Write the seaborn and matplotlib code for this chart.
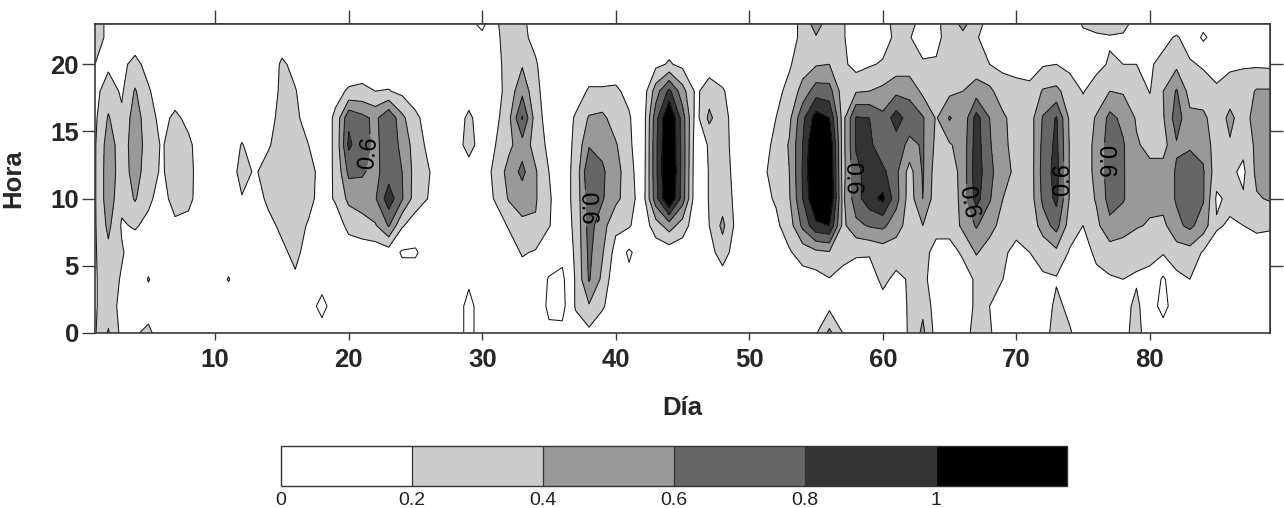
import numpy as np
import pandas as pd
import matplotlib
matplotlib.use("Agg")
import matplotlib.pyplot as plt
import matplotlib.cm as cm
from matplotlib.colors import ListedColormap, BoundaryNorm
import seaborn as sns

sns.set_theme(style="ticks")
plt.rcParams["font.family"] = ["Liberation Sans", "DejaVu Sans"]

# Eje de días y horas de la malla
dias = list(range(1, 90))
horas = [0, 2, 4, 6, 8, 10, 12, 14, 16, 18, 20, 22, 23]

# Índice (en centésimas) para cada día; cada lista recorre las horas de `horas`
indice_pct = [
    [18, 18, 18, 18, 18, 18, 18, 18, 16, 14, 20, 32, 32],   # 1
    [42, 30, 30, 35, 45, 52, 52, 50, 42, 30, 16, 14, 14],   # 2
    [14, 14, 18, 22, 18, 25, 30, 30, 24, 17, 16, 10, 10],   # 3
    [18, 8, 8, 10, 22, 42, 48, 50, 50, 42, 25, 10, 8],      # 4
    [24, 12, 21, 10, 15, 24, 30, 32, 28, 22, 14, 8, 8],     # 5
    [10, 10, 10, 10, 10, 12, 17, 18, 14, 10, 8, 8, 8],      # 6
    [10, 10, 10, 10, 16, 28, 32, 30, 24, 10, 8, 8, 8],      # 7
    [10, 10, 10, 10, 14, 25, 26, 24, 15, 8, 8, 8, 8],       # 8
    [10, 10, 10, 10, 10, 10, 10, 10, 10, 10, 8, 8, 8],      # 9
    [10, 10, 10, 10, 10, 10, 10, 10, 10, 10, 8, 8, 8],      # 10
    [10, 10, 21, 10, 10, 10, 10, 10, 10, 10, 8, 8, 8],      # 11
    [10, 10, 10, 10, 10, 19, 26, 21, 10, 10, 8, 8, 8],      # 12
    [10, 10, 10, 10, 10, 12, 18, 12, 10, 10, 8, 8, 8],      # 13
    [10, 10, 10, 10, 15, 24, 28, 18, 14, 10, 8, 8, 8],      # 14
    [10, 10, 12, 16, 24, 30, 32, 30, 26, 24, 23, 10, 8],    # 15
    [10, 10, 17, 25, 28, 32, 32, 28, 24, 21, 15, 8, 8],     # 16
    [8, 8, 10, 12, 18, 26, 27, 20, 12, 10, 8, 8, 8],        # 17
    [8, -6, 8, 10, 10, 12, 13, 10, 10, 10, 8, 8, 8],        # 18
    [10, 10, 10, 8, 10, 22, 22, 23, 23, 15, 10, 8, 8],      # 19
    [10, 10, 10, 10, 25, 45, 65, 84, 76, 22, 10, 8, 8],     # 20
    [10, 10, 10, 10, 30, 52, 62, 68, 66, 24, 10, 8, 8],     # 21
    [10, 10, 10, 8, 38, 58, 55, 55, 55, 20, 8, 8, 8],       # 22
    [10, 10, 10, 10, 62, 92, 70, 72, 78, 21, 8, 8, 8],      # 23
    [10, 10, 8, -2, 22, 62, 60, 55, 45, 15, 8, 8, 8],       # 24
    [10, 10, 8, -2, 10, 30, 32, 30, 24, 10, 8, 8, 8],       # 25
    [10, 10, 10, 8, 10, 19, 21, 15, 12, 10, 8, 8, 8],       # 26
    [10, 10, 10, 10, 10, 10, 10, 10, 10, 10, 8, 8, 8],      # 27
    [8, 8, 10, 10, 10, 10, 10, 10, 10, 10, 8, 8, 8],        # 28
    [-5, -5, 3, 10, 10, 10, 10, 28, 24, 10, 8, 6, 6],       # 29
    [8, 8, 10, 10, 10, 10, 10, 10, 10, 10, 8, 5, -5],       # 30
    [10, 10, 10, 10, 10, 22, 25, 20, 14, 12, 15, 16, 17],   # 31
    [8, 10, 10, 10, 22, 42, 48, 35, 35, 28, 26, 28, 30],    # 32
    [10, 10, 10, 22, 35, 50, 65, 52, 82, 55, 38, 24, 25],   # 33
    [10, 10, 8, 18, 38, 42, 42, 32, 30, 25, 22, 15, 10],    # 34
    [3, -3, -1, 8, 21, 22, 20, 15, 10, 10, 8, 8, 8],        # 35
    [5, -6, -4, 5, 10, 10, 10, 10, 10, 10, 8, 8, 8],        # 36
    [10, 22, 22, 23, 24, 26, 26, 24, 22, 12, 10, 8, 8],     # 37
    [15, 38, 62, 65, 68, 70, 78, 58, 42, 22, 10, 8, 8],     # 38
    [10, 22, 35, 42, 48, 62, 63, 55, 45, 22, 10, 8, 8],     # 39
    [10, 10, 5, 12, 25, 45, 48, 42, 30, 23, 10, 8, 8],      # 40
    [10, 10, 5, -3, 22, 30, 28, 24, 22, 15, 8, 8, 8],       # 41
    [10, 10, 10, 10, 8, 8, 6, 5, 5, 6, 8, 8, 8],            # 42
    [10, 10, 10, 8, 30, 72, 75, 75, 72, 50, 15, 10, 10],    # 43
    [10, 10, 10, 8, 50, 125, 130, 128, 125, 85, 22, 10, 10],  # 44
    [10, 10, 10, 8, 30, 70, 72, 72, 70, 48, 15, 10, 10],    # 45
    [10, 10, 10, 10, 8, 6, 6, 8, 12, 16, 10, 8, 8],         # 46
    [10, 10, 10, 12, 20, 21, 21, 22, 45, 30, 10, 8, 8],     # 47
    [8, 8, 10, 30, 45, 30, 26, 25, 25, 22, 8, 8, 8],        # 48
    [8, 8, 8, 10, 15, 16, 16, 15, 14, 10, 8, 8, 8],         # 49
    [10, 10, 10, 10, 10, 10, 10, 10, 10, 10, 8, 8, 8],      # 50
    [10, 10, 10, 10, 10, 15, 18, 14, 10, 10, 8, 8, 8],      # 51
    [10, 10, 10, 10, 16, 22, 24, 24, 20, 15, 10, 8, 8],     # 52
    [10, 10, 10, 18, 30, 38, 40, 42, 35, 25, 18, 12, 12],   # 53
    [10, 10, 12, 28, 65, 80, 82, 80, 75, 48, 30, 25, 25],   # 54
    [18, 14, 12, 35, 95, 125, 130, 128, 110, 70, 38, 38, 50],  # 55
    [45, 15, 19, 38, 100, 125, 125, 120, 100, 68, 40, 30, 28],  # 56
    [20, 10, 15, 25, 35, 35, 32, 32, 32, 30, 25, 22, 22],   # 57
    [10, 10, 12, 22, 55, 72, 75, 82, 82, 38, 12, 10, 10],   # 58
    [10, 10, 10, 22, 62, 92, 88, 85, 80, 40, 18, 10, 10],   # 59
    [10, 12, 25, 28, 65, 105, 85, 65, 65, 45, 22, 12, 10],  # 60
    [10, 12, 15, 30, 48, 68, 65, 70, 90, 55, 28, 24, 28],   # 61
    [22, 22, 22, 28, 32, 30, 32, 55, 70, 55, 28, 21, 28],   # 62
    [45, 35, 25, 25, 40, 60, 62, 62, 62, 35, 22, 12, 10],   # 63
    [12, 10, 10, 15, 25, 28, 30, 35, 38, 22, 22, 15, 15],   # 64
    [10, 10, 8, 15, 25, 25, 28, 38, 62, 35, 30, 28, 30],    # 65
    [14, 14, 14, 22, 45, 48, 48, 48, 45, 40, 30, 35, 45],   # 66
    [25, 22, 22, 42, 62, 88, 92, 90, 88, 50, 28, 22, 30],   # 67
    [22, 20, 22, 30, 48, 62, 65, 62, 60, 45, 20, 10, 10],   # 68
    [10, 12, 20, 23, 32, 40, 48, 45, 44, 28, 16, 8, 8],     # 69
    [10, 10, 10, 15, 26, 30, 35, 32, 30, 25, 15, 8, 8],     # 70
    [10, 8, 10, 20, 25, 28, 28, 28, 30, 25, 12, 8, 8],      # 71
    [10, 8, 18, 25, 50, 65, 68, 66, 62, 42, 18, 8, 8],      # 72
    [30, 25, 18, 35, 68, 85, 88, 85, 82, 45, 20, 8, 8],     # 73
    [22, 15, 10, 18, 30, 38, 38, 38, 36, 30, 15, 8, 8],     # 74
    [10, 10, 10, 12, 20, 28, 30, 30, 28, 19, 10, 15, 22],   # 75
    [10, 8, 15, 24, 35, 42, 45, 45, 42, 28, 15, 16, 28],    # 76
    [10, 10, 18, 30, 55, 68, 70, 70, 66, 40, 22, 18, 30],   # 77
    [15, 14, 20, 30, 48, 62, 62, 62, 55, 38, 20, 16, 28],   # 78
    [26, 24, 18, 25, 42, 45, 45, 42, 38, 32, 20, 12, 10],   # 79
    [10, 8, 15, 25, 38, 45, 45, 35, 30, 19, 18, 10, 10],    # 80
    [8, -6, -3, 22, 35, 48, 48, 32, 38, 40, 25, 15, 10],    # 81
    [10, 10, 15, 30, 55, 62, 62, 58, 70, 62, 35, 22, 10],   # 82
    [8, 10, 20, 32, 65, 65, 68, 58, 45, 32, 22, 12, 8],     # 83
    [8, 8, 12, 18, 50, 62, 62, 55, 45, 28, 18, -3, 5],      # 84
    [8, 8, 10, 12, 22, 17, 28, 28, 28, 22, 15, 8, 8],       # 85
    [8, 8, 8, 15, 18, 24, 24, 38, 45, 30, 16, 8, 8],        # 86
    [8, 8, 8, 12, 20, 22, 16, 25, 30, 30, 18, 8, 8],        # 87
    [8, 8, 8, 15, 22, 38, 45, 45, 50, 42, 17, 8, 8],        # 88
    [8, 8, 8, 12, 22, 42, 45, 48, 50, 42, 16, 8, 8],        # 89
]

# Clases de la escala y su tono de gris
niveles = [0.0, 0.2, 0.4, 0.6, 0.8, 1.0, 1.2]
etiquetas_escala = ["0", "0.2", "0.4", "0.6", "0.8", "1"]
grises = ["#ffffff", "#cccccc", "#999999", "#666666", "#333333", "#000000"]

# Puntos donde se rotula la isolínea de 0.6
nivel_rotulado = 0.6
rotulos_06 = [(21.0, 13.5), (38.0, 9.3), (57.7, 11.5), (66.6, 9.8), (73.2, 11.4), (76.9, 12.8)]

ticks_dia = [10, 20, 30, 40, 50, 60, 70, 80]
ticks_hora = [0, 5, 10, 15, 20]

tabla = pd.DataFrame(np.array(indice_pct, dtype=float).T / 100.0, index=horas, columns=dias)
X, Y = np.meshgrid(tabla.columns.values, tabla.index.values)
Z = tabla.values

W, H = 1284, 508
fig = plt.figure(figsize=(W / 100, H / 100), dpi=100)
ax = fig.add_axes([95 / W, (H - 333) / H, 1175 / W, 309 / H])

bordes_relleno = [-1.0] + niveles[:6] + [2.0]
ax.contourf(X, Y, Z, levels=bordes_relleno, colors=["#ffffff"] + grises)
otras = [v for v in niveles[:6] if v != nivel_rotulado]
ax.contour(X, Y, Z, levels=otras, colors="#1a1a1a", linewidths=0.75)
linea_06 = ax.contour(X, Y, Z, levels=[nivel_rotulado], colors="#1a1a1a", linewidths=0.75)
ax.clabel(linea_06, manual=rotulos_06, fmt="%.1f", fontsize=17,
          colors="black", inline=True, inline_spacing=2)

ax.set_xlim(1, 89)
ax.set_ylim(0, 23)
ax.set_xticks(ticks_dia)
ax.set_yticks(ticks_hora)

marco = "#3a3a3a"
for s in ax.spines.values():
    s.set_color(marco)
    s.set_linewidth(1.2)
ax.tick_params(axis="x", direction="out", length=5, width=1, color=marco, pad=6, labelsize=18.5)
ax.tick_params(axis="y", direction="out", length=9.5, width=1, color=marco, pad=2, labelsize=18.5)
for t in ax.get_xticklabels() + ax.get_yticklabels():
    t.set_fontweight("bold")

sup = ax.secondary_xaxis("top")
sup.set_xticks(ticks_dia, labels=[])
sup.tick_params(axis="x", direction="out", length=10, width=1, color=marco)
sup.spines["top"].set_color(marco)
der = ax.secondary_yaxis("right")
der.set_yticks(ticks_hora[1:], labels=[])
der.tick_params(axis="y", direction="out", length=9.5, width=1, color=marco)
der.spines["right"].set_color(marco)

ax.set_xlabel("Día", fontsize=18.5, fontweight="bold")
ax.set_ylabel("Hora", fontsize=18.5, fontweight="bold")
ax.xaxis.set_label_coords(0.5, -0.205)
ax.yaxis.set_label_coords(-0.059, 0.5)

# Barra de escala
cax = fig.add_axes([281 / W, (H - 486) / H, 786 / W, 40 / H])
sm = cm.ScalarMappable(norm=BoundaryNorm(niveles, len(grises)), cmap=ListedColormap(grises))
cb = fig.colorbar(sm, cax=cax, orientation="horizontal", drawedges=True, ticks=niveles[:6])
cb.set_ticklabels(etiquetas_escala)
cb.ax.minorticks_off()
cb.ax.tick_params(which="both", length=0, pad=4, labelsize=14, labelcolor="#222222")
cb.outline.set_edgecolor("#333333")
cb.outline.set_linewidth(1.0)
cb.dividers.set_color("#333333")
cb.dividers.set_linewidth(0.9)

fig.savefig("out.png", dpi=100)
